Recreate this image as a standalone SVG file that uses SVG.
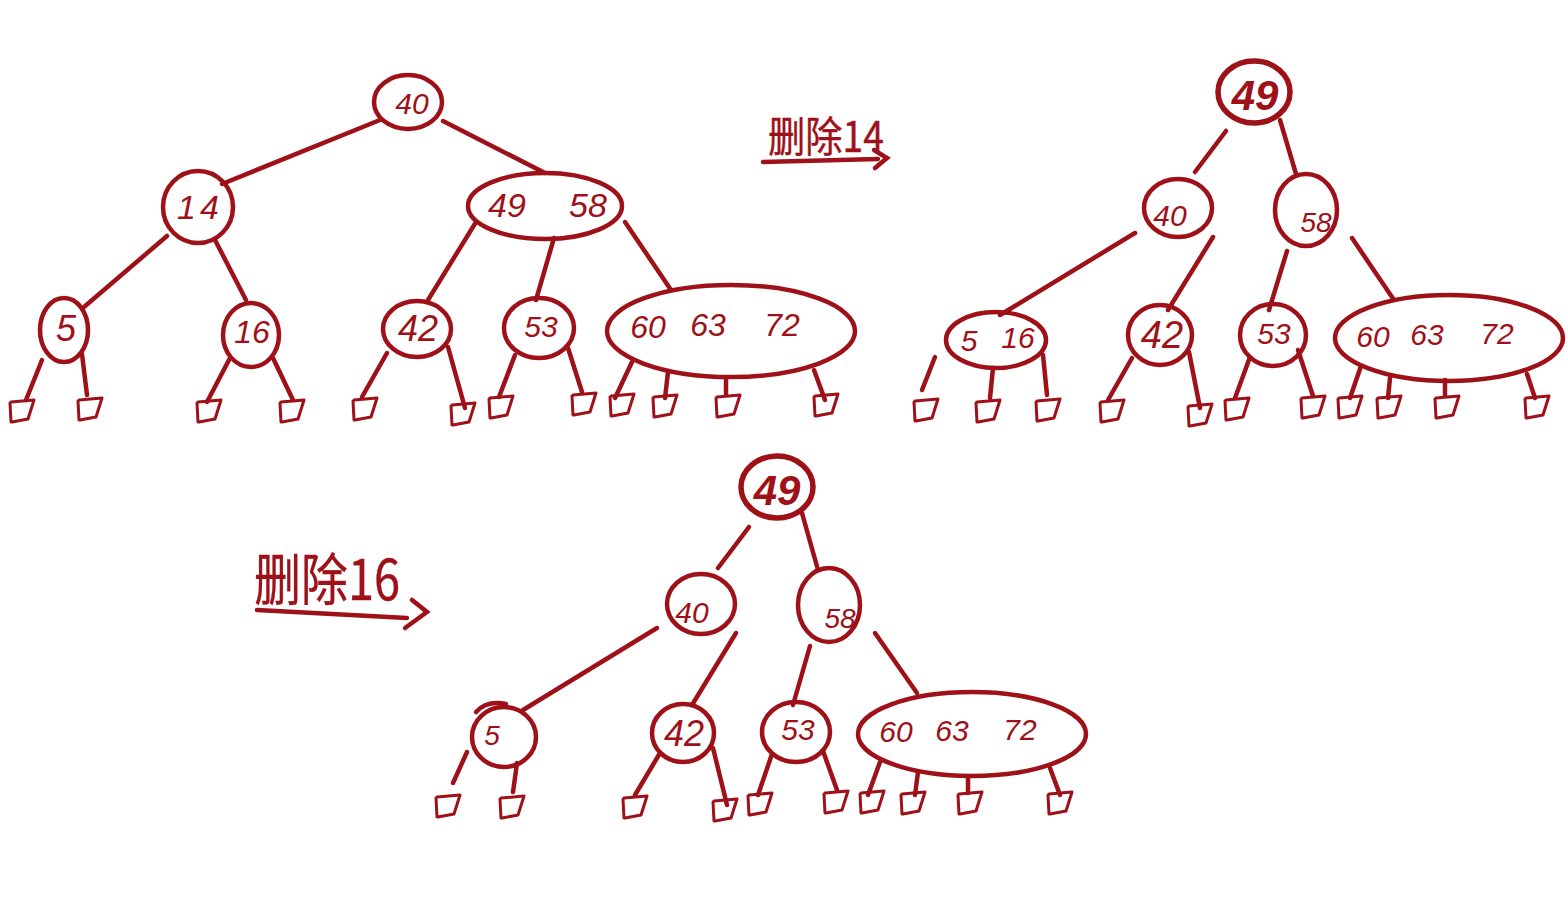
<svg xmlns="http://www.w3.org/2000/svg" xmlns:xlink="http://www.w3.org/1999/xlink" width="1568" height="898" viewBox="0 0 1568 898">
<style>
.n{fill:none;stroke:#9e1118;stroke-width:4.5}
.nb{fill:none;stroke:#9e1118;stroke-width:5.5}
.e{stroke:#9e1118;stroke-width:4.5;stroke-linecap:round;fill:none}
.t{fill:#9e1118;font-family:"Liberation Sans","Noto Sans",sans-serif;font-weight:300;text-anchor:middle;dominant-baseline:central;font-style:italic}
.tb{fill:#9e1118;font-family:"Liberation Sans","Noto Sans",sans-serif;font-weight:bold;text-anchor:middle;dominant-baseline:central;font-style:italic}
.lbl{fill:#9e1118;stroke:#9e1118;stroke-width:0.4;font-family:"Noto Sans CJK SC","Noto Sans",sans-serif;font-weight:400}
.lf{fill:none;stroke:#9e1118;stroke-width:3;stroke-linejoin:round;stroke-linecap:round}
</style>
<defs>
<path id="leaf" class="lf" d="M-12,-7 L-11,12 M-11,-8 L12,-10 L6,9 L-10,12"/>
</defs>
<rect width="1568" height="898" fill="#ffffff"/>
<g id="connectors">
<line class="e" x1="380" y1="120" x2="222" y2="184"/>
<line class="e" x1="443" y1="121" x2="545" y2="173"/>
<line class="e" x1="167" y1="236" x2="84" y2="307"/>
<line class="e" x1="215" y1="240" x2="246" y2="300"/>
<line class="e" x1="476" y1="222" x2="428" y2="300"/>
<line class="e" x1="554" y1="238" x2="536" y2="300"/>
<line class="e" x1="625" y1="222" x2="671" y2="290"/>
<line class="e" x1="42" y1="360" x2="26" y2="400"/>
<line class="e" x1="82" y1="354" x2="87" y2="395"/>
<line class="e" x1="230" y1="358" x2="207" y2="402"/>
<line class="e" x1="273" y1="358" x2="293" y2="400"/>
<line class="e" x1="387" y1="353" x2="362" y2="397"/>
<line class="e" x1="448" y1="347" x2="465" y2="408"/>
<line class="e" x1="515" y1="355" x2="499" y2="397"/>
<line class="e" x1="568" y1="348" x2="582" y2="392"/>
<line class="e" x1="632" y1="362" x2="615" y2="398"/>
<line class="e" x1="668" y1="372" x2="665" y2="398"/>
<line class="e" x1="726" y1="377" x2="726" y2="394"/>
<line class="e" x1="814" y1="370" x2="825" y2="400"/>
<line class="e" x1="1226" y1="131" x2="1195" y2="172"/>
<line class="e" x1="1280" y1="120" x2="1296" y2="174"/>
<line class="e" x1="1135" y1="233" x2="1000" y2="315"/>
<line class="e" x1="1213" y1="237" x2="1168" y2="310"/>
<line class="e" x1="1287" y1="251" x2="1269" y2="310"/>
<line class="e" x1="1352" y1="238" x2="1394" y2="300"/>
<line class="e" x1="935" y1="357" x2="922" y2="390"/>
<line class="e" x1="993" y1="368" x2="990" y2="398"/>
<line class="e" x1="1043" y1="355" x2="1047" y2="395"/>
<line class="e" x1="1132" y1="358" x2="1108" y2="400"/>
<line class="e" x1="1189" y1="352" x2="1200" y2="408"/>
<line class="e" x1="1250" y1="357" x2="1235" y2="398"/>
<line class="e" x1="1298" y1="350" x2="1313" y2="396"/>
<line class="e" x1="1361" y1="366" x2="1350" y2="398"/>
<line class="e" x1="1390" y1="378" x2="1388" y2="398"/>
<line class="e" x1="1445" y1="380" x2="1445" y2="396"/>
<line class="e" x1="1527" y1="374" x2="1535" y2="398"/>
<line class="e" x1="749" y1="527" x2="718" y2="568"/>
<line class="e" x1="802" y1="513" x2="818" y2="570"/>
<line class="e" x1="657" y1="628" x2="523" y2="710"/>
<line class="e" x1="736" y1="633" x2="692" y2="705"/>
<line class="e" x1="810" y1="646" x2="793" y2="705"/>
<line class="e" x1="875" y1="633" x2="917" y2="693"/>
<line class="e" x1="467" y1="752" x2="453" y2="783"/>
<line class="e" x1="517" y1="763" x2="513" y2="792"/>
<line class="e" x1="660" y1="753" x2="635" y2="795"/>
<line class="e" x1="713" y1="748" x2="727" y2="805"/>
<line class="e" x1="772" y1="754" x2="758" y2="795"/>
<line class="e" x1="823" y1="751" x2="837" y2="790"/>
<line class="e" x1="880" y1="762" x2="868" y2="795"/>
<line class="e" x1="918" y1="772" x2="915" y2="795"/>
<line class="e" x1="968" y1="777" x2="968" y2="793"/>
<line class="e" x1="1050" y1="768" x2="1060" y2="795"/>
</g>
<g id="t1-40"><ellipse class="n" cx="408" cy="102" rx="34" ry="27"/><text class="t" x="412" y="103" font-size="30">40</text></g>
<g id="t1-14"><ellipse class="n" cx="198" cy="207" rx="35" ry="36"/><text class="t" x="200" y="207" font-size="34" letter-spacing="4">14</text></g>
<g id="t1-49-58"><ellipse class="n" cx="545" cy="206" rx="77" ry="33"/><text class="t" x="507" y="205" font-size="34">49</text><text class="t" x="588" y="205" font-size="34">58</text></g>
<g id="t1-5"><ellipse class="n" cx="64" cy="330" rx="24" ry="32"/><text class="t" x="66" y="328" font-size="36">5</text></g>
<g id="t1-16"><ellipse class="n" cx="251" cy="335" rx="28" ry="32"/><text class="t" x="252" y="332" font-size="32">16</text></g>
<g id="t1-42"><ellipse class="n" cx="417" cy="329" rx="34" ry="28"/><text class="t" x="418" y="328" font-size="36">42</text></g>
<g id="t1-53"><ellipse class="n" cx="539" cy="328" rx="35" ry="30"/><text class="t" x="541" y="326" font-size="30">53</text></g>
<g id="t1-60-63-72"><ellipse class="n" cx="731" cy="331" rx="124" ry="46"/><text class="t" x="648" y="327" font-size="32">60</text><text class="t" x="708" y="325" font-size="32">63</text><text class="t" x="782" y="325" font-size="32">72</text></g>
<g id="t1-leaves">
<use href="#leaf" x="22" y="410"/><use href="#leaf" x="90" y="408"/>
<use href="#leaf" x="209" y="410"/><use href="#leaf" x="292" y="410"/>
<use href="#leaf" x="365" y="408"/><use href="#leaf" x="463" y="413"/>
<use href="#leaf" x="501" y="406"/><use href="#leaf" x="584" y="403"/>
<use href="#leaf" x="622" y="404"/><use href="#leaf" x="665" y="405"/>
<use href="#leaf" x="728" y="405"/><use href="#leaf" x="826" y="404"/>
</g>
<g id="label-del14">
<text class="lbl" x="768" y="152" font-size="42" textLength="116" lengthAdjust="spacingAndGlyphs">删除14</text>
<path class="e" d="M763,162 L878,159"/>
<path class="e" stroke-width="2" d="M874,150 L887,158 L875,168"/>
</g>
<g id="t2-49"><ellipse class="nb" cx="1254" cy="92" rx="36" ry="31"/><text class="tb" x="1255" y="95" font-size="42">49</text></g>
<g id="t2-40"><ellipse class="n" cx="1178" cy="208" rx="34" ry="29"/><text class="t" x="1170" y="215" font-size="30">40</text></g>
<g id="t2-58"><ellipse class="n" cx="1306" cy="210" rx="31" ry="36"/><text class="t" x="1316" y="222" font-size="28">58</text></g>
<g id="t2-5-16"><ellipse class="n" cx="996" cy="340" rx="50" ry="28"/><text class="t" x="969" y="340" font-size="30">5</text><text class="t" x="1018" y="337" font-size="30">16</text></g>
<g id="t2-42"><ellipse class="n" cx="1160" cy="335" rx="32" ry="30"/><text class="t" x="1162" y="335" font-size="38">42</text></g>
<g id="t2-53"><ellipse class="n" cx="1273" cy="335" rx="33" ry="31"/><text class="t" x="1274" y="333" font-size="30">53</text></g>
<g id="t2-60-63-72"><ellipse class="n" cx="1449" cy="338" rx="114" ry="43"/><text class="t" x="1373" y="336" font-size="30">60</text><text class="t" x="1427" y="334" font-size="30">63</text><text class="t" x="1497" y="333" font-size="30">72</text></g>
<g id="t2-leaves">
<use href="#leaf" x="926" y="409"/><use href="#leaf" x="988" y="410"/><use href="#leaf" x="1048" y="409"/>
<use href="#leaf" x="1112" y="410"/><use href="#leaf" x="1200" y="414"/>
<use href="#leaf" x="1237" y="408"/><use href="#leaf" x="1313" y="406"/>
<use href="#leaf" x="1350" y="406"/><use href="#leaf" x="1389" y="406"/>
<use href="#leaf" x="1447" y="406"/><use href="#leaf" x="1537" y="406"/>
</g>
<g id="label-del16">
<text class="lbl" x="254" y="600" font-size="56" textLength="146" lengthAdjust="spacingAndGlyphs">删除16</text>
<path class="e" d="M257,610 L407,618"/>
<path class="e" stroke-width="2.5" d="M412,600 L427,612 L405,628"/>
</g>
<g id="t3-49"><ellipse class="nb" cx="777" cy="487" rx="36" ry="31"/><text class="tb" x="777" y="490" font-size="42">49</text></g>
<g id="t3-40"><ellipse class="n" cx="701" cy="604" rx="34" ry="30"/><text class="t" x="692" y="612" font-size="30">40</text></g>
<g id="t3-58"><ellipse class="n" cx="829" cy="605" rx="31" ry="37"/><text class="t" x="840" y="618" font-size="28">58</text></g>
<g id="t3-5"><ellipse class="n" cx="504" cy="737" rx="32" ry="30"/><path class="e" stroke-width="3" d="M476,712 C484,703 496,702 506,704"/><text class="t" x="492" y="735" font-size="28">5</text></g>
<g id="t3-42"><ellipse class="n" cx="683" cy="733" rx="31" ry="29"/><text class="t" x="684" y="733" font-size="36">42</text></g>
<g id="t3-53"><ellipse class="n" cx="796" cy="732" rx="34" ry="30"/><text class="t" x="798" y="729" font-size="30">53</text></g>
<g id="t3-60-63-72"><ellipse class="n" cx="972" cy="734" rx="114" ry="42"/><text class="t" x="896" y="731" font-size="30">60</text><text class="t" x="952" y="730" font-size="30">63</text><text class="t" x="1020" y="729" font-size="30">72</text></g>
<g id="t3-leaves">
<use href="#leaf" x="448" y="805"/><use href="#leaf" x="512" y="806"/>
<use href="#leaf" x="635" y="806"/><use href="#leaf" x="725" y="809"/>
<use href="#leaf" x="760" y="803"/><use href="#leaf" x="836" y="801"/>
<use href="#leaf" x="872" y="801"/><use href="#leaf" x="913" y="802"/>
<use href="#leaf" x="970" y="802"/><use href="#leaf" x="1060" y="802"/>
</g>
</svg>
